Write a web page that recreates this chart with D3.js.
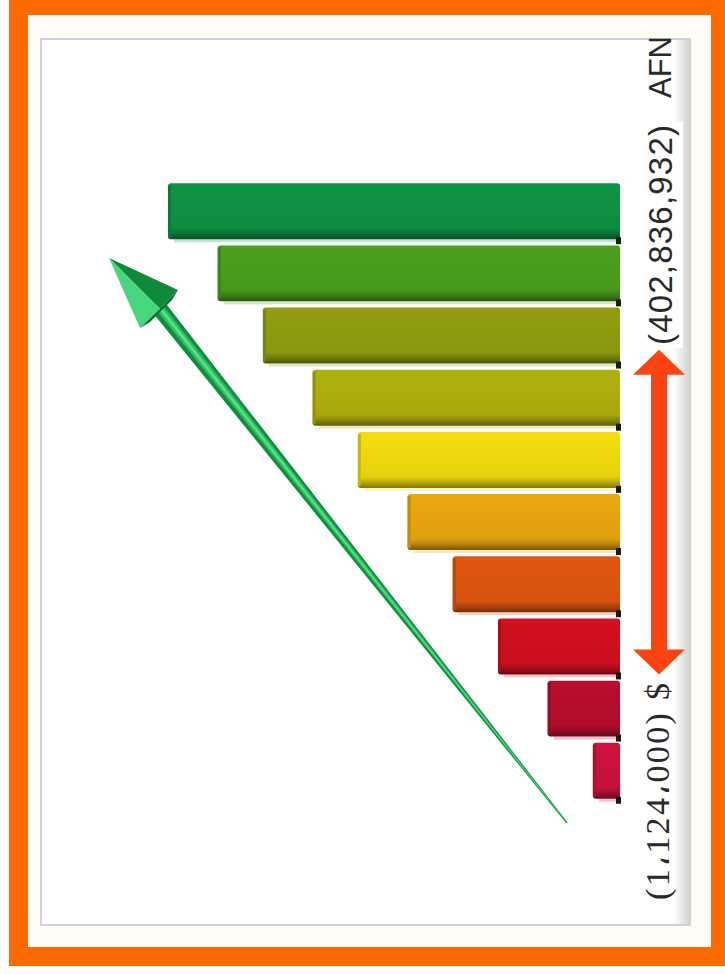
<!DOCTYPE html>
<html>
<head>
<meta charset="utf-8">
<script src="https://cdn.jsdelivr.net/npm/d3@7"></script>
<style>
  html, body { margin: 0; padding: 0; background: #ffffff; }
  svg { display: block; }
</style>
</head>
<body>
<div id="chart"></div>
<script>
// ступени, снизу вверх
var steps = ['1', '2', '3', '4', '5', '6', '7', '8', '9', '10']
var stepValues = [6, 16, 27, 37, 47, 58, 68, 79, 89, 100]
var stepColors = ['#c3123a', '#b00c2c', '#c80e1c', '#d4520e', '#dfa00e',
                  '#e6d20c', '#a8a80c', '#8a960e', '#46981a', '#0e8c40']
var startLabel = '(1،124،000) $'
var endLabel = '(402,836,932)'
var endUnit = 'AFN'

var W = 725, H = 974
var svg = d3.select('#chart').append('svg').attr('width', W).attr('height', H)
var defs = svg.append('defs')

// рамка
svg.append('rect').attr('x', 0).attr('y', 0).attr('width', W).attr('height', H).attr('fill', '#ffffff')
svg.append('rect')
    .attr('x', 18.5).attr('y', 5.5).attr('width', 702).attr('height', 951)
    .attr('fill', '#fffcf6').attr('stroke', '#ff6a00').attr('stroke-width', 19)

// панель
var sh = defs.append('linearGradient').attr('id', 'shadowR').attr('x1', 0).attr('x2', 1).attr('y1', 0).attr('y2', 0)
sh.append('stop').attr('offset', 0).attr('stop-color', '#ffffff')
sh.append('stop').attr('offset', 1).attr('stop-color', '#d4d4d4')
svg.append('rect').attr('x', 41).attr('y', 39).attr('width', 649).attr('height', 886)
    .attr('fill', '#ffffff').attr('stroke', '#d2d2d2').attr('stroke-width', 2)
svg.append('rect').attr('x', 674).attr('y', 40).attr('width', 15).attr('height', 884).attr('fill', 'url(#shadowR)')

// шкалы
var y = d3.scaleBand().domain(steps.slice().reverse()).range([182, 800]).paddingInner(0.1).paddingOuter(0.02)
var x = d3.scaleLinear().domain([0, 100]).range([620, 168])

var data = steps.map(function (s, i) { return { name: s, value: stepValues[i], color: stepColors[i] } })

var bar = svg.selectAll('g.bar').data(data).enter().append('g').attr('class', 'bar')

// градиенты для объёма
data.forEach(function (d, i) {
    var c = d3.color(d.color)
    var g = defs.append('linearGradient').attr('id', 'bg' + i).attr('x1', 0).attr('x2', 0).attr('y1', 0).attr('y2', 1)
    g.append('stop').attr('offset', 0).attr('stop-color', c.brighter(0.15))
    g.append('stop').attr('offset', 0.8).attr('stop-color', c)
    g.append('stop').attr('offset', 0.9).attr('stop-color', c.darker(0.6))
    g.append('stop').attr('offset', 1).attr('stop-color', c.darker(1.6))
})

// светлая полоса под баром
bar.append('rect')
    .attr('x', function (d) { return x(d.value) + 6 })
    .attr('y', function (d) { return y(d.name) + y.bandwidth() })
    .attr('width', function (d) { return x(0) - x(d.value) - 8 })
    .attr('height', 3)
    .attr('fill', function (d) { return d3.interpolateRgb(d.color, '#ffffff')(0.75) })

bar.append('rect')
    .attr('x', function (d) { return x(d.value) })
    .attr('y', function (d) { return y(d.name) })
    .attr('width', function (d) { return x(0) - x(d.value) })
    .attr('height', y.bandwidth())
    .attr('rx', 3)
    .attr('fill', function (d, i) { return 'url(#bg' + i + ')' })

// левая грань
bar.append('rect')
    .attr('x', function (d) { return x(d.value) })
    .attr('y', function (d) { return y(d.name) + 2 })
    .attr('width', 3)
    .attr('height', y.bandwidth() - 4)
    .attr('fill', function (d) { return d3.color(d.color).darker(0.4) })

// тёмные торцы у основания
bar.append('rect')
    .attr('x', x(0) - 4)
    .attr('y', function (d) { return y(d.name) + y.bandwidth() - 2 })
    .attr('width', 5)
    .attr('height', 7)
    .attr('fill', '#1a1a10')

// зелёная стрелка
var tail = [567, 823], base = [160, 309], tip = [109, 258]
var ux = base[0] - tail[0], uy = base[1] - tail[1], ul = Math.hypot(ux, uy)
var nx = -uy / ul, ny = ux / ul
function pt(p, k) { return [p[0] + nx * k, p[1] + ny * k] }
var line = d3.line()
svg.append('path').attr('d', line([pt(tail, 0.8), pt(base, 8), pt(base, -8), pt(tail, -0.8)]) + 'Z').attr('fill', '#0f8f3c')
svg.append('path').attr('d', line([pt(tail, 0.4), pt(base, 4.5), pt(base, -3.5), pt(tail, -0.4)]) + 'Z').attr('fill', '#2fbd62')
svg.append('path').attr('d', line([pt(tail, 0.1), pt(base, 2), pt(base, -1), pt(tail, -0.1)]) + 'Z').attr('fill', '#5fdc8c')
var hb1 = [178, 290], hb2 = [140, 328]
svg.append('path').attr('d', line([tip, hb1, base]) + 'Z').attr('fill', '#0e8a3a')
svg.append('path').attr('d', line([tip, base, hb2]) + 'Z').attr('fill', '#46d67e')
svg.append('path').attr('d', line([hb1, [hb1[0] - 6, hb1[1] + 10], [hb2[0] + 10, hb2[1] - 6], hb2, base]) + 'Z').attr('fill', '#0a6e2c')

// белая подложка под верхней подписью
svg.append('rect').attr('x', 635).attr('y', 122).attr('width', 48).attr('height', 226).attr('fill', '#ffffff')

// оранжевая двойная стрелка
var ax = 659, aTop = y(steps[6]) - 20, aBot = y(steps[2]) + y.bandwidth()
svg.append('rect').attr('x', ax - 8).attr('y', aTop + 22).attr('width', 16).attr('height', aBot - aTop - 44).attr('fill', '#fb4410')
svg.append('path').attr('d', line([[ax, aTop], [ax + 26, aTop + 25], [ax - 26, aTop + 25]]) + 'Z').attr('fill', '#fb4410')
svg.append('path').attr('d', line([[ax, aBot], [ax + 26, aBot - 25], [ax - 26, aBot - 25]]) + 'Z').attr('fill', '#fb4410')

// подписи
svg.append('text')
    .attr('transform', 'translate(660,345) rotate(-90)')
    .attr('dominant-baseline', 'central')
    .attr('textLength', 220).attr('lengthAdjust', 'spacing')
    .style('font-family', "'Liberation Sans', Arial, sans-serif")
    .style('font-size', '33px').attr('fill', '#2a2a2a')
    .text(endLabel)
svg.append('text')
    .attr('transform', 'translate(660,98) rotate(-90)')
    .attr('dominant-baseline', 'central')
    .attr('textLength', 62).attr('lengthAdjust', 'spacingAndGlyphs')
    .style('font-family', "'Liberation Sans', Arial, sans-serif")
    .style('font-size', '32px').attr('fill', '#2a2a2a')
    .text(endUnit)

// нижняя подпись: цифры шрифтом с засечками, арабская запятая отдельно
var bottom = svg.append('text')
    .attr('transform', 'translate(657,900) rotate(-90)')
    .attr('dominant-baseline', 'central')
    .attr('direction', 'ltr')
    .attr('unicode-bidi', 'bidi-override')
    .attr('textLength', 217).attr('lengthAdjust', 'spacing')
    .style('font-family', "'Liberation Serif', 'Times New Roman', serif")
    .style('font-size', '34px').attr('fill', '#2a2a2a')
startLabel.split(/(،)/).forEach(function (part) {
    if (!part) return
    bottom.append('tspan')
        .style('font-family', part === '،' ? "'DejaVu Sans', sans-serif" : "'Liberation Serif', serif")
        .text(part)
})
</script>
</body>
</html>
